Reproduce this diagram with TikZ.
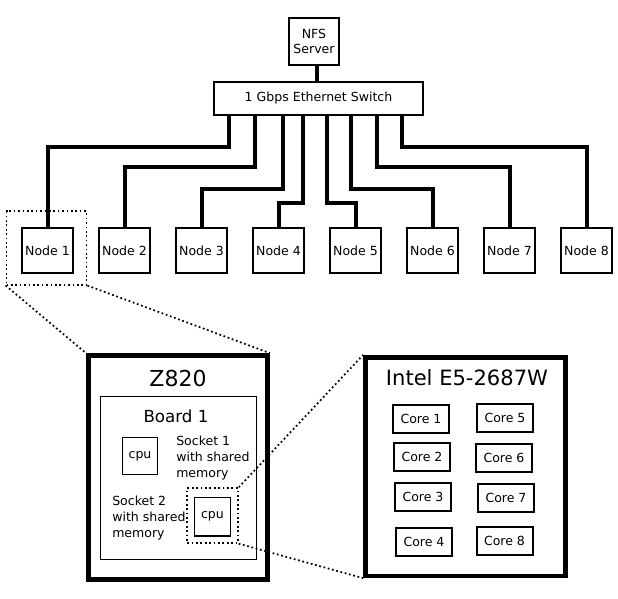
\documentclass[tikz,border=0pt]{standalone}
\usepackage{fontspec}
\setmainfont{DejaVu Sans}
\begin{document}
\begin{tikzpicture}[x=0.75pt,y=-0.75pt,
  box/.style={draw,line width=1.5pt,inner sep=0pt,font=\fontsize{9.4}{11}\selectfont},
  wire/.style={line width=3pt},
  bigbox/.style={draw,line width=3.5pt,inner sep=0pt},
  thinbox/.style={draw,line width=1pt,inner sep=0pt,font=\fontsize{9.4}{11}\selectfont},
  zoombox/.style={draw,dotted,line width=1.3pt,inner sep=0pt},
  zoomline/.style={dotted,line width=1.3pt},
  txt/.style={font=\fontsize{9.4}{12}\selectfont,align=left,inner sep=0pt}]

 \useasboundingbox (0,0) rectangle (618,599);

 % server and switch
 \node[box,minimum width=37.5pt,minimum height=35pt,align=center] (nfs) at (314,41.5) {NFS\\Server};
 \node[box,minimum width=157pt,minimum height=25pt] (sw) at (318.5,98.5) {1 Gbps Ethernet Switch};
 \draw[wire] (317,0 |- nfs.south) -- (317,0 |- sw.north);

 % cluster nodes
 \foreach \i in {1,...,8}
   \node[box,minimum width=38.5pt,minimum height=34pt] (n\i) at ({47.5+77*(\i-1)},250.5) {Node \i};
 \foreach \i/\sx/\lev in {1/229/147,2/255/167,3/283/189,4/303/203,5/327/203,6/351/189,7/377/167,8/402/147}
   \draw[wire] (n\i.north) |- (\sx,\lev) -- (\sx,0 |- sw.south);
 \node[zoombox,minimum width=60pt,minimum height=55pt] (zn1) at (46.5,248) {};

 % workstation
 \node[bigbox,minimum width=134.5pt,minimum height=168pt] (z820) at (178,467.5) {};
 \node[font=\fontsize{16.5}{18}\selectfont] (z820t) at (178,378) {Z820};
 \node[thinbox,minimum width=117pt,minimum height=122pt] (board) at (178.5,478) {};
 \node[font=\fontsize{12.5}{14}\selectfont] (boardt) at (176,416) {Board 1};
 \node[thinbox,minimum width=26.5pt,minimum height=28pt] (cpu1) at (140,456) {cpu};
 \node[txt,anchor=west] (sock1) at (176,458) {Socket 1\\with shared\\memory};
 \node[txt,anchor=west] (sock2) at (112,518) {Socket 2\\with shared\\memory};
 \node[thinbox,minimum width=27pt,minimum height=29pt] (cpu2) at (212.5,516.5) {cpu};
 \node[zoombox,minimum width=38pt,minimum height=41pt] (zcpu) at (212.5,515.5) {};

 % processor
 \node[bigbox,minimum width=150pt,minimum height=164pt] (intel) at (465.5,466.5) {};
 \node[font=\fontsize{15.8}{18}\selectfont] (intelt) at (467,378) {Intel E5-2687W};
 \foreach \i/\cx/\cy in {1/421/418.5,2/422/457,3/423/497,4/424/542,5/505/418,6/504/458,7/506/498,8/504.5/541}
   \node[box,minimum width=42pt,minimum height=21pt] (core\i) at (\cx,\cy) {Core \i};

 \draw[zoomline] (zn1.south west) -- (z820.north west) (zn1.south east) -- (z820.north east);
 \draw[zoomline] (zcpu.north east) -- (intel.north west) (zcpu.south east) -- (intel.south west);
\end{tikzpicture}
\end{document}
